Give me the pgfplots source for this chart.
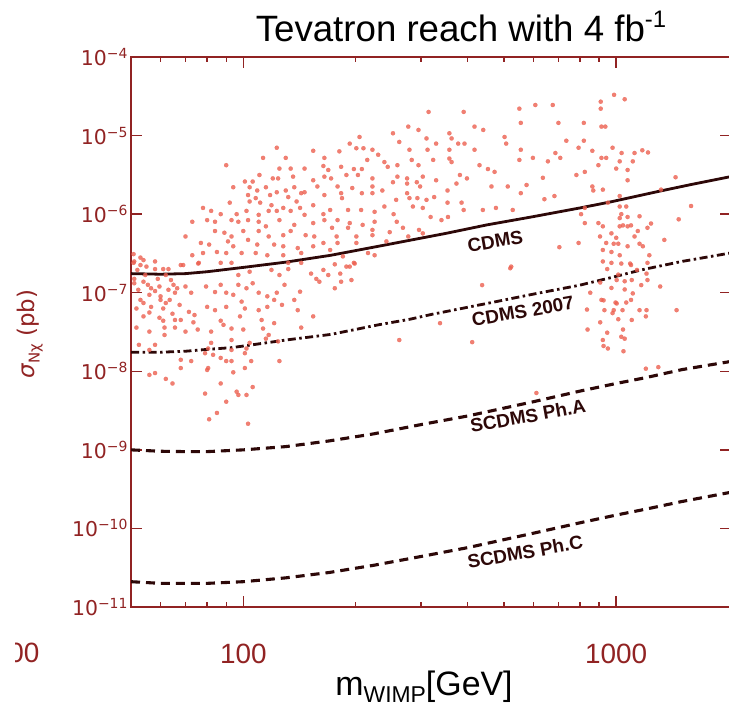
\documentclass[border=0pt]{standalone}
\usepackage{fontspec}
\setmainfont{Liberation Sans}
\newfontfamily\djv{DejaVu Sans}
\usepackage{pgfplots}
\pgfplotsset{compat=1.18}
\definecolor{axiscol}{RGB}{145,35,35}
\definecolor{curvecol}{RGB}{45,8,8}
\definecolor{ptcol}{RGB}{236,96,80}
\newcommand{\ylab}[1]{10\raisebox{7bp}{\fontsize{14}{14}\selectfont −#1}}
\begin{document}
\begin{tikzpicture}
\useasboundingbox (0,0) rectangle (729bp,708bp);
\begin{axis}[
  at={(131bp,101bp)}, anchor=south west,
  scale only axis, width=600bp, height=550bp,
  xmode=log, ymode=log,
  xmin=50, xmax=2032, ymin=1e-11, ymax=1e-4,
  axis line style={axiscol, line width=1.8bp},
  every tick/.style={axiscol, line width=1.4bp},
  major tick length=11bp, minor tick length=5.5bp,
  xtick={100,1000}, xticklabels={100,1000},
  minor xtick={60,70,80,90,200,300,400,500,600,700,800,900},
  ytick={1e-11,1e-10,1e-9,1e-8,1e-7,1e-6,1e-5,1e-4},
  yticklabels={\ylab{11},\ylab{10},\ylab{9},\ylab{8},\ylab{7},\ylab{6},\ylab{5},\ylab{4}},
  yminorticks=false,
  tick align=inside,
  xtick pos=both, ytick pos=both,
  xticklabel pos=bottom, yticklabel pos=left,
  xticklabel style={font=\fontsize{28}{28}\selectfont, text=axiscol, anchor=base, yshift=-56bp},
  yticklabel style={font=\djv\fontsize{20.5}{20.5}\selectfont, text=axiscol},
]
\addplot[only marks, color=ptcol, mark=*, mark size=2.1bp, mark options={solid, fill=ptcol, draw=ptcol, line width=0.2bp, opacity=0.8}] table {
123 7.0e-6
154 6.4e-6
113 5.2e-6
130 5.2e-6
165 5.2e-6
90 4.2e-6
125 3.8e-6
134 3.8e-6
146 3.8e-6
164 4.1e-6
169 3.65e-6
110.5 3.15e-6
120 2.85e-6
124 2.85e-6
136 3.0e-6
154 2.7e-6
165 3.0e-6
101 2.6e-6
106 2.6e-6
94 2.2e-6
104 2.2e-6
109 2.0e-6
115 2.2e-6
123 1.9e-6
130 2.0e-6
137 2.2e-6
146 1.9e-6
158 2.25e-6
103 1.75e-6
108 1.6e-6
118 1.75e-6
132 1.65e-6
143 1.85e-6
165 1.75e-6
92 1.4e-6
104 1.45e-6
111 1.4e-6
119 1.3e-6
128 1.2e-6
139 1.45e-6
142 1.2e-6
154 1.3e-6
78 1.2e-6
82 1.1e-6
87 1.0e-6
96 1.0e-6
102 1.1e-6
110 9.8e-7
117 1.1e-6
123 1.1e-6
134 1.1e-6
146 9.8e-7
164 1.0e-6
73 8.0e-7
80 8.4e-7
84 8.0e-7
93 8.4e-7
97 8.0e-7
103 8.4e-7
110 8.0e-7
115 7.0e-7
125 8.4e-7
137 7.3e-7
154 7.7e-7
165 8.4e-7
70 5.2e-7
84 6.1e-7
89 5.8e-7
93 5.2e-7
100 6.1e-7
110 6.1e-7
117 5.2e-7
128 5.4e-7
134 6.1e-7
147 5.4e-7
155 5.2e-7
77 4.3e-7
81 4.1e-7
91 4.5e-7
94 3.9e-7
103 4.7e-7
109 4.1e-7
121 4.1e-7
128 3.9e-7
140 3.7e-7
154 3.9e-7
164 4.3e-7
73 3.0e-7
78 3.2e-7
85 3.3e-7
90 3.2e-7
99 3.2e-7
108 3.2e-7
116 3.0e-7
128 3.0e-7
143 3.2e-7
68 2.25e-7
76 2.4e-7
51 2.5e-7
53 2.25e-7
63 2.0e-7
93 2.4e-7
132 2.4e-7
314 2.0e-5
390 2.0e-5
550 2.2e-5
555 1.45e-5
277 1.3e-5
295 1.18e-5
417 1.3e-5
440 1.18e-5
252 1.07e-5
357 1.07e-5
362 9.2e-6
502 9.6e-6
205 9.6e-6
310 9.2e-6
193 7.9e-6
262 8.3e-6
329 7.9e-6
377 7.9e-6
392 7.9e-6
507 7.9e-6
201 6.9e-6
210 6.9e-6
222 6.6e-6
181 6.3e-6
230 5.7e-6
279 6.6e-6
312 6.6e-6
357 6.6e-6
417 6.6e-6
555 6.6e-6
215 4.9e-6
239 4.6e-6
259 4.2e-6
283 4.9e-6
323 4.9e-6
357 5.1e-6
362 4.6e-6
430 4.2e-6
453 3.75e-6
550 4.9e-6
183 4.0e-6
198 3.75e-6
208 3.75e-6
244 4.0e-6
295 4.2e-6
472 3.45e-6
172 2.85e-6
189 3.15e-6
203 3.15e-6
222 2.85e-6
259 3.0e-6
275 2.85e-6
303 3.0e-6
329 2.7e-6
381 3.15e-6
398 2.85e-6
179 2.25e-6
196 2.15e-6
222 2.25e-6
236 2.0e-6
252 2.55e-6
275 2.45e-6
292 2.55e-6
298 2.25e-6
353 2.0e-6
373 2.45e-6
463 2.25e-6
512 2.25e-6
575 2.35e-6
555 1.85e-6
183 1.85e-6
208 1.85e-6
222 1.85e-6
275 1.85e-6
279 1.6e-6
325 1.65e-6
184 1.6e-6
257 1.52e-6
293 1.6e-6
310 1.52e-6
239 1.25e-6
285 1.25e-6
303 1.2e-6
353 1.4e-6
385 1.4e-6
171 1.13e-6
191 1.13e-6
207 1.13e-6
225 1.07e-6
253 1.0e-6
318 9.2e-7
354 9.2e-7
439 1.13e-6
476 1.2e-6
528 1.13e-6
390 1.13e-6
179 8.4e-7
193 7.7e-7
209 7.3e-7
225 8.0e-7
258 8.0e-7
340 8.4e-7
173 6.7e-7
191 6.7e-7
222 6.3e-7
247 5.9e-7
268 6.7e-7
296 6.3e-7
303 5.7e-7
178 5.2e-7
201 5.2e-7
222 5.4e-7
277 5.2e-7
179 4.3e-7
201 4.3e-7
242 4.5e-7
171 3.5e-7
185 2.9e-7
198 2.4e-7
216 3.2e-7
225 3.0e-7
523 2.15e-7
189 2.15e-7
987 3.3e-5
1054 2.9e-5
607 2.45e-5
676 2.45e-5
909 2.7e-5
909 2.2e-5
700 1.45e-5
819 1.45e-5
913 1.3e-5
935 1.3e-5
735 8.6e-6
819 8.6e-6
793 7.0e-6
863 6.4e-6
978 7.0e-6
687 6.0e-6
708 5.2e-6
598 5.2e-6
656 4.7e-6
913 5.2e-6
940 5.2e-6
1034 6.0e-6
1120 6.0e-6
1175 6.5e-6
1217 6.1e-6
1022 4.7e-6
1108 4.7e-6
896 4.2e-6
1000 3.8e-6
1073 3.65e-6
824 3.45e-6
782 3.15e-6
636 2.9e-6
1073 2.7e-6
1443 2.95e-6
863 2.25e-6
921 2.05e-6
868 2.0e-6
1319 2.05e-6
683 1.7e-6
642 1.55e-6
1022 1.7e-6
950 1.4e-6
824 1.2e-6
805 1.0e-6
1022 1.25e-6
1064 1.25e-6
1588 1.27e-6
1032 1.0e-6
1022 8.9e-7
1073 9.2e-7
1155 9.4e-7
1471 8.6e-7
824 7.7e-7
896 7.7e-7
921 7.0e-7
1022 7.0e-7
1043 7.2e-7
1073 7.0e-7
1096 7.2e-7
1240 7.6e-7
1143 6.1e-7
1213 6.7e-7
971 5.7e-7
905 5.2e-7
1000 5.0e-7
1120 5.2e-7
1346 4.7e-7
940 4.3e-7
985 4.2e-7
1013 4.2e-7
1073 3.9e-7
1155 4.2e-7
1179 3.9e-7
793 4.3e-7
704 3.8e-7
921 3.5e-7
971 3.3e-7
1227 3.0e-7
1022 3.0e-7
921 2.5e-7
971 2.4e-7
1032 2.35e-7
1090 2.35e-7
1213 2.4e-7
946 2.0e-7
1137 1.95e-7
1312 1.2e-7
1206 1.75e-7
1101 1.45e-7
1003 1.45e-7
906 1.35e-7
852 1.0e-7
925 8.0e-8
1003 7.3e-8
978 5.5e-8
1040 6.0e-8
1101 4.5e-8
1206 6.0e-8
1452 6.0e-8
906 4.2e-8
838 3.4e-8
946 3.1e-8
1032 2.75e-8
925 2.1e-8
1046 1.8e-8
520 2.05e-7
437 1.25e-7
337 4.1e-8
411 2.35e-8
835 6.1e-8
921 2.5e-8
950 1.95e-8
930 6.0e-8
985 6.0e-8
1013 4.6e-8
1043 3.4e-8
1054 2.6e-8
913 8.1e-8
996 7.5e-8
1064 7.5e-8
1096 8.1e-8
1155 6.0e-8
1201 5.0e-8
971 1.15e-7
1054 1.1e-7
1108 9.8e-8
1167 1.25e-7
1054 1.4e-7
1013 1.7e-7
1096 2.25e-7
1213 1.45e-7
1201 1.08e-8
1297 1.13e-8
611 5.3e-9
50.8 2.4e-7
52 1.95e-7
51 1.5e-7
55 2.15e-7
58 2.0e-7
61 2.0e-7
69 2.25e-7
75.7 2.35e-7
87 2.4e-7
97 1.68e-7
104 1.85e-7
119 1.95e-7
125 1.68e-7
132 2.0e-7
143 2.4e-7
152 1.75e-7
164 1.95e-7
169 1.68e-7
176 2.3e-7
182 1.75e-7
193 2.15e-7
199 2.35e-7
195 1.45e-7
51 1.32e-7
54 1.38e-7
55.5 1.26e-7
52.3 1.09e-7
56.6 1.14e-7
59.6 1.2e-7
63 1.09e-7
65 1.26e-7
65.6 1.0e-7
70 1.2e-7
72.5 1.0e-7
79.5 1.2e-7
84 1.02e-7
87 1.26e-7
90 1.0e-7
94 9.4e-8
97 1.26e-7
102 1.14e-7
106 1.32e-7
110 1.0e-7
116 9.0e-8
123 1.0e-7
129 1.26e-7
137 8.1e-8
142 1.03e-7
157 1.5e-7
160 1.38e-7
176 1.14e-7
183 1.38e-7
54 7.4e-8
56.6 6.6e-8
62 7.4e-8
63.5 8.1e-8
61 6.3e-8
64.6 5.4e-8
71.5 5.7e-8
80 6.6e-8
84 6.0e-8
90 6.6e-8
99 7.7e-8
101 6.3e-8
110 6.0e-8
116 6.6e-8
121 8.1e-8
127 7.0e-8
140 6.0e-8
51.7 6.3e-8
54 5.0e-8
59.6 4.8e-8
61 4.4e-8
65.6 4.5e-8
68 4.5e-8
74 5.2e-8
73.5 4.2e-8
87 4.4e-8
88.5 3.9e-8
98 5.0e-8
112 4.5e-8
121 4.1e-8
154 5.0e-8
51.7 3.6e-8
56 3.2e-8
61.5 3.6e-8
65.6 3.6e-8
70 3.2e-8
75.5 3.4e-8
82 3.2e-8
93 3.5e-8
100 3.4e-8
113 3.5e-8
117 2.9e-8
143 3.6e-8
52.5 2.17e-8
58 2.17e-8
61.5 2.9e-8
82 2.3e-8
93 2.5e-8
104 2.3e-8
115 2.6e-8
124 2.4e-8
56 1.87e-8
80.5 1.95e-8
83 1.62e-8
87 1.48e-8
93 1.87e-8
102 1.95e-8
68 1.4e-8
72.5 1.35e-8
79 1.7e-8
90 1.35e-8
93 1.35e-8
101 1.7e-8
105 1.35e-8
125 1.35e-8
262 2.5e-8
56 9.0e-9
58 9.5e-9
68 1.1e-8
80 1.04e-8
80.5 1.1e-8
94 9.7e-9
101 1.1e-8
62 8.0e-9
64.6 7.0e-9
87 7.0e-9
106 6.3e-9
79 5.2e-9
96 5.5e-9
97 5.0e-9
102 5.0e-9
90 4.1e-9
85 2.95e-9
81 2.45e-9
103 2.15e-9
53 2.8e-7
54.6 1.68e-7
59 1.5e-7
62 1.68e-7
56 9.4e-8
60 8.1e-8
50.8 3.1e-7
54 2.6e-7
58 2.5e-7
64 1.45e-7
66.5 1.14e-7
60 9.0e-8
53 8.1e-8
56 5.6e-8
67.5 7.0e-8
58 1.05e-7
};
% CDMS
\addplot[curvecol, line width=2.8bp] table {
50 1.75e-7
60 1.72e-7
70 1.75e-7
80 1.85e-7
100 2.1e-7
130 2.45e-7
172 3.0e-7
250 4.2e-7
350 5.7e-7
450 7.3e-7
592 9.2e-7
800 1.2e-6
965 1.43e-6
1300 1.95e-6
1600 2.4e-6
2040 3.02e-6
};
% CDMS 2007
\addplot[curvecol, line width=2.8bp, dash pattern=on 8bp off 3.5bp on 2.5bp off 3.5bp] table {
50 1.75e-8
60 1.75e-8
70 1.8e-8
80 1.9e-8
93 2.0e-8
104 2.15e-8
130 2.5e-8
172 2.95e-8
230 3.9e-8
280 4.6e-8
320 5.3e-8
450 7.3e-8
600 9.6e-8
800 1.25e-7
965 1.55e-7
1167 1.95e-7
1500 2.5e-7
2040 3.22e-7
};
% SCDMS Ph.A
\addplot[curvecol, line width=3.1bp, dash pattern=on 9bp off 6bp] table {
50 1.0e-9
60 9.6e-10
70 9.5e-10
80 9.5e-10
100 1.0e-9
130 1.1e-9
170 1.3e-9
224 1.6e-9
300 2.1e-9
400 2.7e-9
500 3.4e-9
600 4.1e-9
800 5.6e-9
1000 7.0e-9
1200 8.3e-9
1500 1.05e-8
2040 1.34e-8
};
% SCDMS Ph.C
\addplot[curvecol, line width=3.1bp, dash pattern=on 9bp off 6bp] table {
50 2.1e-11
60 2.0e-11
70 2.0e-11
80 2.0e-11
100 2.1e-11
130 2.35e-11
170 2.75e-11
224 3.4e-11
300 4.4e-11
400 5.7e-11
500 7.2e-11
600 8.7e-11
800 1.18e-10
1000 1.48e-10
1200 1.76e-10
1500 2.2e-10
2040 2.9e-10
};
\node[rotate=10, font=\bfseries\fontsize{19}{19}\selectfont, text=curvecol] at (axis cs:474,4.5e-7) {CDMS};
\node[rotate=10, font=\bfseries\fontsize{19}{19}\selectfont, text=curvecol] at (axis cs:562,5.8e-8) {CDMS 2007};
\node[rotate=10, font=\bfseries\fontsize{19}{19}\selectfont, text=curvecol] at (axis cs:580,2.7e-9) {SCDMS Ph.A};
\node[rotate=10, font=\bfseries\fontsize{19}{19}\selectfont, text=curvecol] at (axis cs:570,5.0e-11) {SCDMS Ph.C};
\end{axis}
\begin{scope}
\clip (15bp,0bp) rectangle (80bp,90bp);
\node[anchor=base east, font=\fontsize{28}{28}\selectfont, text=axiscol] at (43bp,45bp) {100};
\end{scope}
\node[rotate=90, text=axiscol, font=\djv\fontsize{23}{23}\selectfont] at (30bp,374bp) {{\itshape σ}\raisebox{-5bp}{\fontsize{15}{15}\selectfont Nχ} (pb)};
\node[anchor=base, font=\fontsize{36.8}{36.8}\selectfont] at (461bp,666bp) {Tevatron reach with 4 fb\raisebox{14bp}{\fontsize{24}{24}\selectfont -1}};
\node[anchor=base, font=\fontsize{34}{34}\selectfont] at (424bp,13bp) {m\raisebox{-7bp}{\fontsize{23}{23}\selectfont WIMP}[GeV]};
\end{tikzpicture}
\end{document}
